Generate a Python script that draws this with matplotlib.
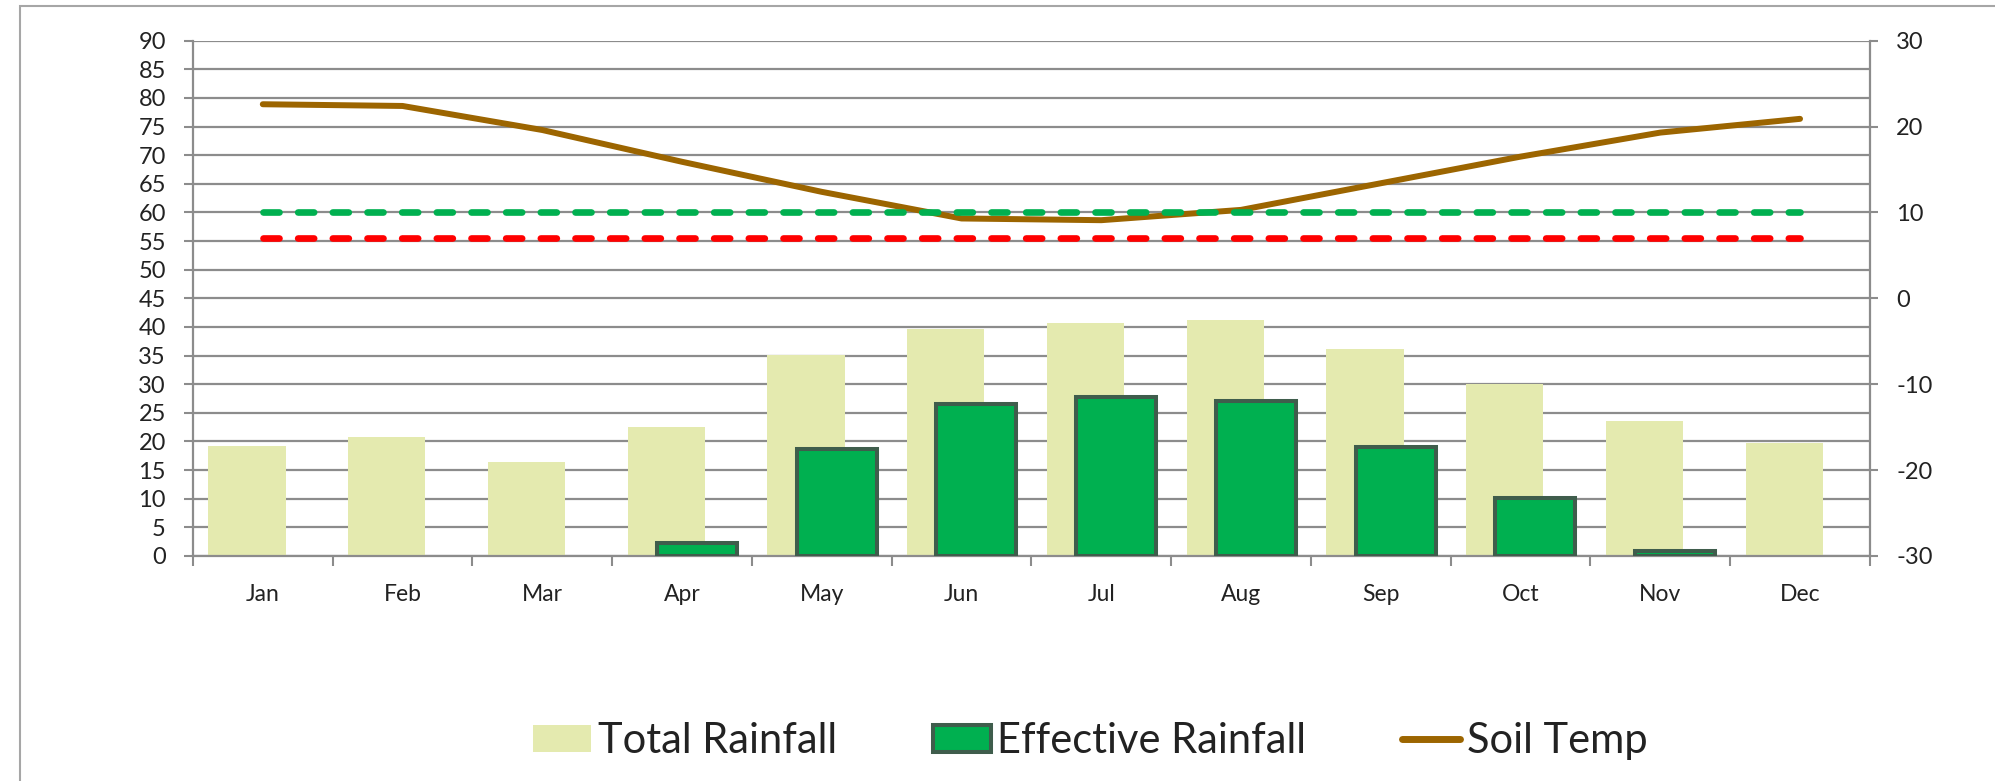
import numpy as np
import matplotlib.pyplot as plt
from matplotlib.patches import Rectangle, Patch
from matplotlib.lines import Line2D

plt.rcParams['font.family'] = ['Lato', 'DejaVu Sans']
plt.rcParams['axes.unicode_minus'] = False

# data
months = ["Jan", "Feb", "Mar", "Apr", "May", "Jun",
          "Jul", "Aug", "Sep", "Oct", "Nov", "Dec"]
total_rain = [19.2, 20.7, 16.5, 22.5, 35.1, 39.7, 40.7, 41.2, 36.1, 30.0, 23.5, 19.8]
effective_rain = [0, 0, 0, 2.2, 18.6, 26.5, 27.8, 27.0, 19.1, 10.2, 0.9, 0]
soil_temp = [22.6, 22.4, 19.6, 15.9, 12.4, 9.3, 9.1, 10.3, 13.4, 16.5, 19.3, 20.9]
upper_limit = 10   # green dashed (soil temp axis)
lower_limit = 7    # red dashed

left_ticks = np.arange(0, 91, 5)
right_ticks = np.arange(-30, 31, 10)

# colours
c_total = "#E4EAAF"
c_eff = "#00B050"
c_eff_edge = "#3F5D4C"
c_soil = "#9C6500"
c_grid = "#8c8c8c"
c_text = "#222222"

fig = plt.figure(figsize=(19.95, 7.81), dpi=100)
ax = fig.add_axes([0.0967, 0.2881, 0.8406, 0.6598])
ax2 = ax.twinx()

x = np.arange(len(months))

ax.set_axisbelow(True)
ax.bar(x - 0.113, total_rain, width=0.553, color=c_total, zorder=2)
eff_lw = [2.9 if v > 0 else 0 for v in effective_rain]
ax.bar(x + 0.106, effective_rain, width=0.572, color=c_eff,
       edgecolor=c_eff_edge, linewidth=eff_lw, zorder=3)

ax.set_xlim(-0.5, len(months) - 0.5)
ax.set_ylim(0, 90)
ax.set_yticks(left_ticks)
ax.yaxis.grid(True, color=c_grid, lw=1.6)
ax.set_xticks(x)
ax.set_xticklabels(months)
ax.set_xticks(np.arange(-0.5, len(months), 1), minor=True)
ax.tick_params(axis='x', which='major', length=0, pad=20, labelsize=16.5, labelcolor=c_text)
ax.tick_params(axis='x', which='minor', length=7.5, width=1.5, color=c_grid)
ax.tick_params(axis='y', length=6.5, width=1.5, color=c_grid, pad=13,
               labelsize=17, labelcolor=c_text)

for s in ["top", "right"]:
    ax.spines[s].set_visible(False)
for s in ["left", "bottom"]:
    ax.spines[s].set_color(c_grid)
    ax.spines[s].set_linewidth(1.6)

# soil temperature + limits on the secondary axis
ax2.plot(x, soil_temp, color=c_soil, lw=4.3, solid_capstyle='round', zorder=3)
ax2.plot([x[0], x[-1]], [upper_limit, upper_limit], color="#00B050", lw=4.8,
         linestyle=(0, (2.4, 2.8)), dash_capstyle='round', zorder=4)
ax2.plot([x[0], x[-1]], [lower_limit, lower_limit], color="#FF0000", lw=4.8,
         linestyle=(0, (2.4, 2.8)), dash_capstyle='round', zorder=4)
ax2.set_ylim(-30, 30)
ax2.set_yticks(right_ticks)
ax2.tick_params(axis='y', length=6, width=1.5, color=c_grid, pad=13,
                labelsize=17, labelcolor=c_text)
for s in ["top", "left", "bottom"]:
    ax2.spines[s].set_visible(False)
ax2.spines["right"].set_color(c_grid)
ax2.spines["right"].set_linewidth(1.6)

handles = [
    Patch(facecolor=c_total, edgecolor='none', label="Total Rainfall"),
    Patch(facecolor=c_eff, edgecolor=c_eff_edge, linewidth=2.9, label="Effective Rainfall"),
    Line2D([], [], color=c_soil, lw=5, solid_capstyle='round', label="Soil Temp"),
]
fig.legend(handles=handles, loc='center', bbox_to_anchor=(0.5464, 0.051), ncol=3,
           frameon=False, fontsize=30, handlelength=1.4, handleheight=0.65,
           handletextpad=0.15, columnspacing=2.3, labelcolor=c_text)

# chart border (runs off the right and bottom edges)
fig.add_artist(Rectangle((20 / 1995, -0.1), 2, 1 - 6 / 781 + 0.1,
                         transform=fig.transFigure, fill=False,
                         edgecolor="#a6a6a6", lw=1.5, clip_on=False))

fig.savefig("out.png", dpi=100)
